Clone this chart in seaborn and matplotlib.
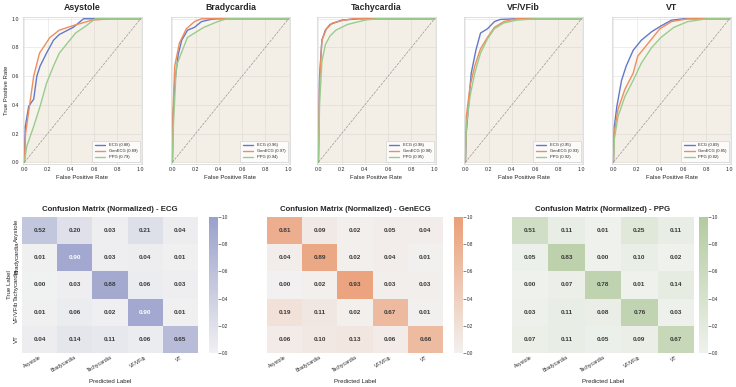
import matplotlib
matplotlib.use("Agg")
import matplotlib.pyplot as plt
import seaborn as sns
import numpy as np

# ---- ROC data (fpr, tpr) ----
classes = ["Asystole", "Bradycardia", "Tachycardia", "VF/VFib", "VT"]
modalities = ["ECG", "GenECG", "PPG"]

auc_ecg = [0.88, 0.96, 0.98, 0.95, 0.89]
auc_genecg = [0.89, 0.97, 0.98, 0.93, 0.85]
auc_ppg = [0.79, 0.94, 0.95, 0.92, 0.82]

asystole_ecg_fpr = [0, 0.008, 0.037, 0.08, 0.107, 0.135, 0.19, 0.25, 0.30, 0.42, 0.51, 1.0]
asystole_ecg_tpr = [0, 0.25, 0.39, 0.44, 0.60, 0.67, 0.76, 0.85, 0.89, 0.94, 1.0, 1.0]
asystole_gen_fpr = [0, 0.01, 0.04, 0.08, 0.13, 0.22, 0.30, 0.41, 0.58, 0.75, 1.0]
asystole_gen_tpr = [0, 0.20, 0.37, 0.60, 0.76, 0.87, 0.92, 0.95, 0.99, 1.0, 1.0]
asystole_ppg_fpr = [0, 0.02, 0.08, 0.135, 0.19, 0.25, 0.30, 0.36, 0.44, 0.53, 0.61, 1.0]
asystole_ppg_tpr = [0, 0.11, 0.25, 0.39, 0.55, 0.67, 0.76, 0.82, 0.90, 0.95, 1.0, 1.0]

brady_ecg_fpr = [0, 0.006, 0.02, 0.05, 0.08, 0.13, 0.19, 0.25, 0.33, 0.39, 1.0]
brady_ecg_tpr = [0, 0.32, 0.55, 0.75, 0.85, 0.92, 0.94, 0.98, 0.995, 1.0, 1.0]
brady_gen_fpr = [0, 0.006, 0.02, 0.06, 0.12, 0.19, 0.25, 1.0]
brady_gen_tpr = [0, 0.37, 0.67, 0.83, 0.93, 0.98, 1.0, 1.0]
brady_ppg_fpr = [0, 0.006, 0.034, 0.076, 0.13, 0.19, 0.27, 0.39, 0.47, 1.0]
brady_ppg_tpr = [0, 0.21, 0.67, 0.76, 0.87, 0.90, 0.94, 0.98, 1.0, 1.0]

tachy_ecg_fpr = [0, 0.01, 0.03, 0.06, 0.10, 0.20, 0.35, 1.0]
tachy_ecg_tpr = [0, 0.60, 0.85, 0.92, 0.96, 0.99, 1.0, 1.0]
tachy_gen_fpr = [0, 0.01, 0.03, 0.07, 0.12, 0.22, 0.30, 1.0]
tachy_gen_tpr = [0, 0.55, 0.85, 0.93, 0.97, 0.99, 1.0, 1.0]
tachy_ppg_fpr = [0, 0.01, 0.03, 0.06, 0.10, 0.15, 0.25, 0.40, 0.50, 1.0]
tachy_ppg_tpr = [0, 0.40, 0.70, 0.82, 0.88, 0.92, 0.96, 0.99, 1.0, 1.0]

vf_ecg_fpr = [0, 0.008, 0.05, 0.09, 0.13, 0.19, 0.25, 0.30, 0.44, 1.0]
vf_ecg_tpr = [0, 0.21, 0.62, 0.78, 0.90, 0.93, 0.98, 0.995, 1.0, 1.0]
vf_gen_fpr = [0, 0.008, 0.04, 0.08, 0.13, 0.19, 0.25, 0.33, 0.44, 0.58, 1.0]
vf_gen_tpr = [0, 0.32, 0.53, 0.67, 0.79, 0.87, 0.94, 0.98, 1.0, 1.0, 1.0]
vf_ppg_fpr = [0, 0.008, 0.04, 0.08, 0.13, 0.19, 0.25, 0.33, 0.44, 0.61, 1.0]
vf_ppg_tpr = [0, 0.25, 0.46, 0.62, 0.76, 0.86, 0.93, 0.97, 0.99, 1.0, 1.0]

vt_ecg_fpr = [0, 0.008, 0.03, 0.07, 0.11, 0.17, 0.24, 0.33, 0.41, 0.50, 0.61, 1.0]
vt_ecg_tpr = [0, 0.25, 0.39, 0.57, 0.67, 0.78, 0.85, 0.91, 0.95, 0.99, 1.0, 1.0]
vt_gen_fpr = [0, 0.008, 0.04, 0.10, 0.17, 0.21, 0.30, 0.40, 0.50, 0.64, 0.81, 1.0]
vt_gen_tpr = [0, 0.21, 0.37, 0.51, 0.62, 0.74, 0.83, 0.93, 0.98, 1.0, 1.0, 1.0]
vt_ppg_fpr = [0, 0.008, 0.04, 0.10, 0.17, 0.24, 0.33, 0.41, 0.52, 0.64, 0.81, 1.0]
vt_ppg_tpr = [0, 0.16, 0.32, 0.46, 0.57, 0.69, 0.80, 0.87, 0.94, 0.98, 1.0, 1.0]

# ---- normalized confusion matrices ----
cm_ecg = [[0.52, 0.20, 0.03, 0.21, 0.04],
          [0.01, 0.90, 0.03, 0.04, 0.01],
          [0.00, 0.03, 0.88, 0.06, 0.03],
          [0.01, 0.06, 0.02, 0.90, 0.01],
          [0.04, 0.14, 0.11, 0.06, 0.65]]
cm_genecg = [[0.81, 0.09, 0.02, 0.05, 0.04],
             [0.04, 0.89, 0.02, 0.04, 0.01],
             [0.00, 0.02, 0.93, 0.03, 0.03],
             [0.19, 0.11, 0.02, 0.67, 0.01],
             [0.06, 0.10, 0.13, 0.06, 0.66]]
cm_ppg = [[0.51, 0.11, 0.01, 0.25, 0.11],
          [0.05, 0.83, 0.00, 0.10, 0.02],
          [0.00, 0.07, 0.78, 0.01, 0.14],
          [0.03, 0.11, 0.08, 0.76, 0.03],
          [0.07, 0.11, 0.05, 0.09, 0.67]]

roc_curves = {
    "Asystole": [(asystole_ecg_fpr, asystole_ecg_tpr), (asystole_gen_fpr, asystole_gen_tpr), (asystole_ppg_fpr, asystole_ppg_tpr)],
    "Bradycardia": [(brady_ecg_fpr, brady_ecg_tpr), (brady_gen_fpr, brady_gen_tpr), (brady_ppg_fpr, brady_ppg_tpr)],
    "Tachycardia": [(tachy_ecg_fpr, tachy_ecg_tpr), (tachy_gen_fpr, tachy_gen_tpr), (tachy_ppg_fpr, tachy_ppg_tpr)],
    "VF/VFib": [(vf_ecg_fpr, vf_ecg_tpr), (vf_gen_fpr, vf_gen_tpr), (vf_ppg_fpr, vf_ppg_tpr)],
    "VT": [(vt_ecg_fpr, vt_ecg_tpr), (vt_gen_fpr, vt_gen_tpr), (vt_ppg_fpr, vt_ppg_tpr)],
}
aucs = [auc_ecg, auc_genecg, auc_ppg]

sns.set_theme(style="whitegrid")
plt.rcParams['font.family'] = ['Liberation Sans', 'DejaVu Sans']

line_colors = ["#6478c6", "#ef8d5c", "#9acb8e"]
cm_colors = ["#9aa0cb", "#ea9f77", "#b3cb9f"]
fill_color = "#d8c8b0"

fig = plt.figure(figsize=(7.36, 3.87), dpi=100)
W, H = 736, 387

def px_axes(x0, y0, x1, y1):
    return fig.add_axes([x0 / W, 1 - y1 / H, (x1 - x0) / W, (y1 - y0) / H])

# ---- top row: ROC curves ----
roc_left = [23, 171, 317, 464, 612]
for i, cls in enumerate(classes):
    ax = px_axes(roc_left[i], 17, roc_left[i] + 119, 164)
    for k, (fpr, tpr) in enumerate(roc_curves[cls]):
        ax.fill_between(fpr, tpr, color=fill_color, alpha=0.1, linewidth=0)
        sns.lineplot(x=fpr, y=tpr, sort=False, estimator=None, ax=ax, color=line_colors[k],
                     linewidth=1.0, label=f"{modalities[k]} ({aucs[k][i]:.2f})")
    ax.plot([0, 1], [0, 1], linestyle="--", color="gray", linewidth=0.5, alpha=0.8)
    ax.set_xlim(-0.012, 1.012)
    ax.set_ylim(-0.012, 1.012)
    ax.set_xticks(np.arange(0, 1.01, 0.2))
    ax.set_yticks(np.arange(0, 1.01, 0.2))
    ax.tick_params(labelsize=3.8, pad=2.5, length=0)
    ax.grid(color="#e6e6e6", linewidth=0.5)
    for s in ax.spines.values():
        s.set_color("#d9d9d9")
        s.set_linewidth(0.6)
    ax.set_title(cls, fontsize=6.3, weight="bold", pad=5)
    ax.set_xlabel("False Positive Rate", fontsize=4.3, labelpad=1.5)
    if i == 0:
        ax.set_ylabel("True Positive Rate", fontsize=4.3, labelpad=2)
    else:
        ax.set_yticklabels([])
        ax.set_ylabel("")
    leg = ax.legend(loc="lower right", fontsize=3.0, frameon=True, handlelength=2.6,
                    borderpad=0.6, labelspacing=0.5, handletextpad=0.8)
    leg.get_frame().set_linewidth(0.5)

# ---- bottom row: confusion matrices ----
hm_pos = [(22, 198, 209, 218), (267, 443, 454, 463), (512, 694, 699, 708)]
cms = [cm_ecg, cm_genecg, cm_ppg]
white_text_from = [0.89, 1.1, 1.1]
for j, name in enumerate(modalities):
    x0, x1, c0, c1 = hm_pos[j]
    ax = px_axes(x0, 217, x1, 353)
    cax = px_axes(c0, 217, c1, 353)
    cmap = sns.light_palette(cm_colors[j], as_cmap=True)
    sns.heatmap(np.array(cms[j]), annot=True, fmt=".2f", cmap=cmap, vmin=0, vmax=1,
                xticklabels=classes, yticklabels=classes, ax=ax, cbar_ax=cax,
                annot_kws={"size": 4.6, "weight": "bold"})
    for txt in ax.texts:
        txt.set_color("white" if float(txt.get_text()) >= white_text_from[j] else "#3a3a3a")
    ax.set_title(f"Confusion Matrix (Normalized) - {name}", fontsize=5.6, weight="bold", pad=4)
    ax.set_xlabel("Predicted Label", fontsize=4.4, labelpad=4)
    ax.tick_params(axis="x", labelsize=3.7, pad=1.5, length=0)
    plt.setp(ax.get_xticklabels(), rotation=30, ha="right", rotation_mode="anchor")
    if j == 0:
        ax.set_ylabel("True Label", fontsize=4.4, labelpad=1.5)
        ax.tick_params(axis="y", labelsize=4.4, pad=2, length=0)
        plt.setp(ax.get_yticklabels(), rotation=90, va="center")
    else:
        ax.set_yticks([])
        ax.set_ylabel("")
    cax.tick_params(labelsize=3.3, length=2, width=0.5, pad=1, color="#555555")
    cax.set_yticks(np.arange(0, 1.01, 0.2))
    cax.yaxis.set_major_formatter(matplotlib.ticker.FormatStrFormatter("%.1f"))

fig.savefig("out.png", dpi=100)
